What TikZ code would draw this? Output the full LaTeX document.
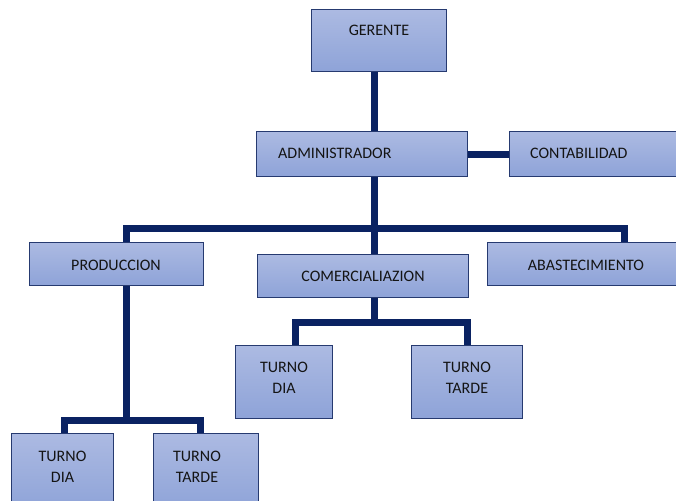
\documentclass[tikz,border=0pt]{standalone}
\usepackage{fontspec}
\setmainfont{Carlito}
\definecolor{boxtop}{RGB}{172,186,226}
\definecolor{boxbot}{RGB}{142,163,216}
\definecolor{boxline}{RGB}{38,58,112}
\definecolor{connline}{RGB}{10,34,98}
\definecolor{txt}{RGB}{20,20,20}
\tikzset{
  orgbox/.style={draw=boxline, line width=1pt, top color=boxtop, bottom color=boxbot,
    inner sep=0pt, rectangle},
  lbl/.style={font=\fontsize{16}{21}\selectfont, text=txt, inner sep=0pt, align=center},
  conn/.style={draw=connline, line width=7pt, line join=miter, line cap=rect},
}
\begin{document}
\begin{tikzpicture}[x=1pt,y=-1pt]
\useasboundingbox (0,0) rectangle (676,500);
\clip (0,0) rectangle (676,500);

% branch positions
\coordinate (spine) at (374,0);
\coordinate (pdrop) at (126,0);
\coordinate (adrop) at (624,0);
\coordinate (cleft) at (295,0);
\coordinate (cright) at (467,0);
\coordinate (pleft) at (64,0);
\coordinate (pright) at (200,0);
\coordinate (bus1) at (374,228);
\coordinate (bus2) at (374,322);
\coordinate (bus3) at (126,420);

% boxes (empty nodes, labels placed separately)
\path
  (379,40.5)  node[orgbox, minimum width=134, minimum height=61] (ger) {}
  (362,154)   node[orgbox, minimum width=210, minimum height=44] (adm) {}
  (593.5,154) node[orgbox, minimum width=167, minimum height=44] (con) {}
  (116.5,264) node[orgbox, minimum width=173, minimum height=42] (pro) {}
  (363,276)   node[orgbox, minimum width=210, minimum height=42] (com) {}
  (582.5,264) node[orgbox, minimum width=189, minimum height=42] (aba) {}
  (284,382)   node[orgbox, minimum width=96,  minimum height=72] (tdA) {}
  (467,382)   node[orgbox, minimum width=110, minimum height=72] (ttA) {}
  (62.5,472)  node[orgbox, minimum width=101, minimum height=76] (tdB) {}
  (206,472)   node[orgbox, minimum width=104, minimum height=76] (ttB) {};

% connectors
\draw[conn] (ger.south -| spine) -- (adm.north -| spine);
\draw[conn] (adm.east) -- (con.west);
\draw[conn] (adm.south -| spine) -- (com.north -| spine);
\draw[conn] (pro.north -| pdrop) |- (bus1) -| (aba.north -| adrop);
\draw[conn] (com.south -| spine) -- (bus2);
\draw[conn] (tdA.north -| cleft) |- (bus2) -| (ttA.north -| cright);
\draw[conn] (pro.south -| pdrop) -- (bus3);
\draw[conn] (tdB.north -| pleft) |- (bus3) -| (ttB.north -| pright);

% redraw boxes on top of connector ends
\foreach \n in {ger,adm,con,pro,com,aba,tdA,ttA,tdB,ttB}{
  \path[orgbox] (\n.north west) rectangle (\n.south east);
}

% labels
\node[lbl] (gerT) at (379,30) {GERENTE};
\node[lbl, anchor=west] (admT) at (278,153) {ADMINISTRADOR};
\node[lbl, anchor=west] (conT) at (530,153) {CONTABILIDAD};
\node[lbl] (proT) at (116,265) {PRODUCCION};
\node[lbl] (comT) at (363,276) {COMERCIALIAZION};
\node[lbl] (abaT) at (586,265) {ABASTECIMIENTO};
\node[lbl] (tdAT) at (284,377.5) {TURNO\\DIA};
\node[lbl] (ttAT) at (467,377.5) {TURNO\\TARDE};
\node[lbl] (tdBT) at (62.5,466.5) {TURNO\\DIA};
\node[lbl] (ttBT) at (197,466.5) {TURNO\\TARDE};
\end{tikzpicture}
\end{document}
